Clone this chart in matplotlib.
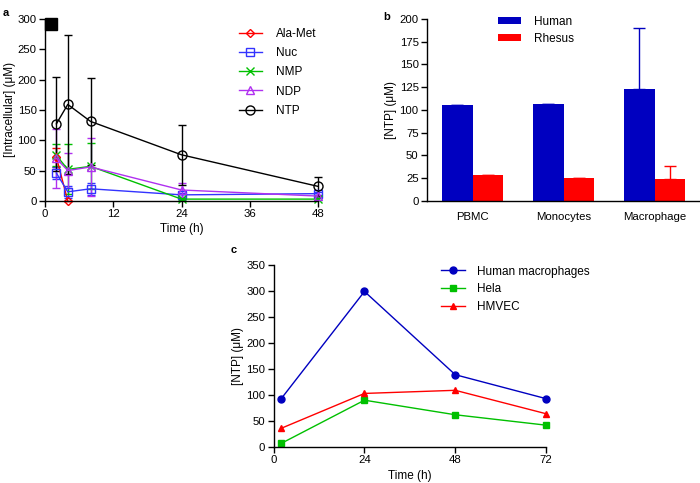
import numpy as np
import matplotlib
matplotlib.use('Agg')
import matplotlib.pyplot as plt
from matplotlib.lines import Line2D

plt.rcParams['font.family'] = ['Liberation Sans', 'DejaVu Sans']
plt.rcParams['font.size'] = 8.5
plt.rcParams['xtick.labelsize'] = 8.2
plt.rcParams['ytick.labelsize'] = 8.2

# panel a: intracellular metabolites
time_a = [2, 4, 8, 24, 48]
alamet = [72, 0]
alamet_err = [16, 0]
nuc = [46, 15, 20, 10, 12]
nuc_err = [10, 10, 10, 3, 3]
nmp = [75, 52, 57, 3, 3]
nmp_err = [18, 41, 38, 2, 2]
ndp = [70, 50, 56, 18, 8]
ndp_err = [49, 29, 48, 12, 2]
ntp = [127, 159, 131, 76, 24]
ntp_err = [77, 115, 72, 49, 16]

# panel b: NTP by cell type
cells = ['PBMC', 'Monocytes', 'Macrophage']
human = [105, 107, 123]
human_err = [0, 0, 67]
rhesus = [29, 25, 24]
rhesus_err = [0, 0, 14]

# panel c: NTP time course
time_c = [2, 24, 48, 72]
hmac = [93, 299, 139, 93]
hela = [7, 90, 62, 42]
hmvec = [36, 103, 109, 64]

fig = plt.figure(figsize=(7, 4.83), dpi=100)

def style(ax):
    for s in ['top', 'right']:
        ax.spines[s].set_visible(False)
    ax.tick_params(direction='out', length=4, width=1, pad=2)
    for s in ['left', 'bottom']:
        ax.spines[s].set_linewidth(1)

# ---- a ----
ax1 = fig.add_axes([0.0643, 0.584, 0.39, 0.377])
series = [
    ('Ala-Met', time_a[:2], alamet, alamet_err, '#ff0000', 'D', 4),
    ('Nuc', time_a, nuc, nuc_err, '#3333ff', 's', 6),
    ('NMP', time_a, nmp, nmp_err, '#00c000', 'x', 6),
    ('NDP', time_a, ndp, ndp_err, '#b030f0', '^', 6),
    ('NTP', time_a, ntp, ntp_err, '#000000', 'o', 6.5),
]
handles = []
for name, t, y, e, c, m, ms in series:
    ax1.errorbar(t, y, yerr=e, color=c, marker=m, ms=ms, mfc='none', mec=c,
                 lw=1, capsize=3, elinewidth=1, clip_on=False)
    handles.append(Line2D([], [], color=c, marker=m, ms=ms, mfc='none',
                          mec=c, lw=1, label=name))
ax1.plot([1.1], [291], marker='s', ms=8, color='black', clip_on=False)
ax1.set_xlim(0, 48)
ax1.set_ylim(0, 300)
ax1.set_xticks([0, 12, 24, 36, 48])
ax1.set_yticks(np.arange(0, 301, 50))
ax1.set_xlabel('Time (h)', labelpad=3)
ax1.set_ylabel('[Intracellular] (μM)', labelpad=1)
style(ax1)
ax1.legend(handles=handles, loc='upper right', bbox_to_anchor=(1.035, 1.01),
           frameon=False, handlelength=2.0, labelspacing=0.62,
           handletextpad=1.2)

# ---- b ----
ax2 = fig.add_axes([0.61, 0.584, 0.39, 0.377])
x = np.arange(len(cells))
w = 0.33
ax2.bar(x - w / 2, human, w, color='#0000c0', label='Human')
ax2.bar(x + w / 2, rhesus, w, color='#ff0000', label='Rhesus')
ax2.errorbar(x - w / 2, human, yerr=[np.zeros(3), human_err], fmt='none',
             ecolor='#0000c0', capsize=4, elinewidth=1)
ax2.errorbar(x + w / 2, rhesus, yerr=[np.zeros(3), rhesus_err], fmt='none',
             ecolor='#ff0000', capsize=4, elinewidth=1)
ax2.set_xlim(-0.5, 2.5)
ax2.set_ylim(0, 200)
ax2.set_yticks(np.arange(0, 201, 25))
ax2.set_xticks(x)
ax2.set_xticklabels(cells)
ax2.set_ylabel('[NTP] (μM)', labelpad=1.5)
style(ax2)
ax2.tick_params(axis='x', length=0, pad=8)
ax2.legend(loc='upper left', bbox_to_anchor=(0.22, 1.075), frameon=False,
           handlelength=2.0, handleheight=0.55, handletextpad=1.1,
           labelspacing=0.45)

# ---- c ----
ax3 = fig.add_axes([0.391, 0.0745, 0.389, 0.377])
ax3.plot(time_c, hmac, color='#0000c0', marker='o', ms=5, lw=1,
         label='Human macrophages', clip_on=False)
ax3.plot(time_c, hela, color='#00c000', marker='s', ms=5, lw=1,
         label='Hela', clip_on=False)
ax3.plot(time_c, hmvec, color='#ff0000', marker='^', ms=5, lw=1,
         label='HMVEC', clip_on=False)
ax3.set_xlim(0, 72)
ax3.set_ylim(0, 350)
ax3.set_xticks([0, 24, 48, 72])
ax3.set_yticks(np.arange(0, 351, 50))
ax3.set_xlabel('Time (h)', labelpad=3)
ax3.set_ylabel('[NTP] (μM)', labelpad=1.5)
style(ax3)
ax3.legend(loc='upper left', bbox_to_anchor=(0.575, 1.055), frameon=False,
           handlelength=2.0, handletextpad=1.1, labelspacing=0.5)

fig.text(0.004, 0.983, 'a', fontweight='bold', fontsize=8, va='top')
fig.text(0.548, 0.975, 'b', fontweight='bold', fontsize=8, va='top')
fig.text(0.33, 0.493, 'c', fontweight='bold', fontsize=8, va='top')

fig.savefig('out.png', dpi=100)
